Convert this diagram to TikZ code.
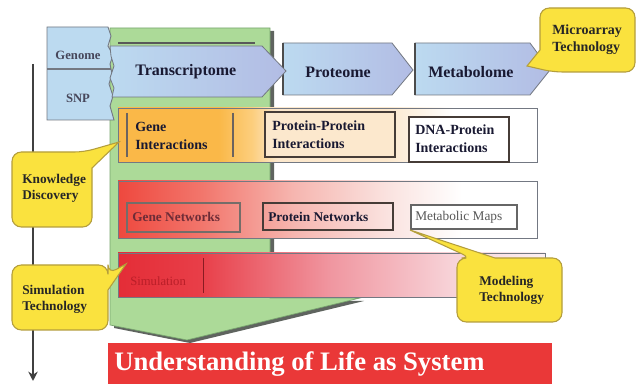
\documentclass[tikz,border=0pt]{standalone}
\usepackage{fontspec}
\setmainfont{Liberation Serif}
\usetikzlibrary{arrows.meta}
\definecolor{grn}{RGB}{172,218,152}
\definecolor{grnb}{RGB}{120,165,110}
\definecolor{shad}{RGB}{95,100,95}
\definecolor{lblue}{RGB}{188,218,240}
\definecolor{lav}{RGB}{178,188,228}
\definecolor{bgray}{RGB}{115,120,130}
\definecolor{navy}{RGB}{25,25,50}
\definecolor{orA}{RGB}{250,184,72}
\definecolor{orA2}{RGB}{252,206,125}
\definecolor{orB}{RGB}{252,232,205}
\definecolor{rdA}{RGB}{238,72,62}
\definecolor{rdA2}{RGB}{242,118,108}
\definecolor{rdB}{RGB}{246,182,176}
\definecolor{rdC}{RGB}{250,226,223}
\definecolor{smA}{RGB}{228,45,55}
\definecolor{smA2}{RGB}{232,62,72}
\definecolor{smB}{RGB}{240,150,160}
\definecolor{smC}{RGB}{247,210,215}
\definecolor{smD}{RGB}{252,240,242}
\definecolor{yel}{RGB}{250,226,62}
\definecolor{yelb}{RGB}{180,158,60}
\definecolor{redbar}{RGB}{234,56,56}
\definecolor{peach}{RGB}{252,232,205}
\definecolor{boxb}{RGB}{70,60,55}
\definecolor{simtxt}{RGB}{185,30,40}
\pgfdeclarehorizontalshading{bandA}{100bp}{color(0bp)=(orA); color(25bp)=(orA); color(37bp)=(orA); color(41bp)=(orA2); color(44bp)=(orB); color(57bp)=(orB); color(65bp)=(white); color(100bp)=(white)}
\pgfdeclarehorizontalshading{bandB}{100bp}{color(0bp)=(rdA); color(25bp)=(rdA); color(35bp)=(rdA2); color(46bp)=(rdB); color(57bp)=(rdC); color(66bp)=(white); color(100bp)=(white)}
\pgfdeclarehorizontalshading{bandC}{100bp}{color(0bp)=(smA); color(25bp)=(smA); color(34.6bp)=(smA2); color(49.8bp)=(smB); color(63.9bp)=(smC); color(75bp)=(smD); color(100bp)=(smD)}
\tikzset{
  band/.style={draw=bgray, line width=0.7pt, shade},
  ibox/.style={draw=boxb, line width=1.1pt},
  callout/.style={fill=yel, draw=yelb, line width=0.8pt},
  toplbl/.style={font=\fontsize{12}{13}\selectfont\bfseries, text=navy, anchor=west, inner sep=0pt},
  boxlbl/.style={font=\fontsize{10.5}{13.5}\selectfont\bfseries, text=navy, anchor=west, align=left, inner sep=0pt},
  calllbl/.style={font=\fontsize{10}{12}\selectfont\bfseries, text=black!85, anchor=west, align=left, inner sep=0pt},
}
\begin{document}
\begin{tikzpicture}[x=0.75pt,y=-0.75pt]
\useasboundingbox (0,0) rectangle (637,384);
\fill[white] (0,0) rectangle (637,384);
% vertical arrow
\coordinate (vtop) at (33,64);
\coordinate (vbot) at (33,381);
\draw[line width=2pt, draw=black!75, -{Stealth[length=7pt,width=7pt]}] (vtop) -- (vbot);
% green big arrow
\fill[shad] (114,31) -- (274,31) -- (274,301) -- (364,301) -- (190,343) -- (114,328) -- cycle;
\filldraw[fill=grn, draw=grnb, line width=0.5pt] (110,28) -- (270,28) -- (270,298) -- (360,298) -- (187,340) -- (110,325) -- cycle;
% genome / SNP box
\filldraw[fill=lblue, draw=bgray, line width=0.7pt] (47,27) -- (108,27) -- (111,36) -- (108,46) -- (113,55) -- (110,64) -- (112,74) -- (109,84) -- (113,96) -- (110,106) -- (114,120) -- (47,120) -- cycle;
\draw[bgray, line width=0.8pt] (47,69) -- (111,69);
\node[font=\fontsize{9.5}{11}\selectfont\bfseries, text=navy!80] (genome) at (78,55) {Genome};
\node[font=\fontsize{9.5}{11}\selectfont\bfseries, text=navy!80] (snp) at (78,98) {SNP};
% proteome, metabolome
\shade[left color=lblue, right color=lav, draw=bgray, line width=0.6pt] (283,43) -- (392,43) -- (413,70) -- (392,95) -- (283,95) -- cycle;
\draw[black!70, line width=1pt] (283,43) -- (283,95);
\shade[left color=lblue, right color=lav, draw=bgray, line width=0.6pt] (415,43) -- (530,43) -- (550,70) -- (530,95) -- (415,95) -- cycle;
\draw[black!70, line width=1pt] (415,43) -- (415,95);
% transcriptome
\draw[black!65, line width=1pt] (118,43) -- (255,43);
\shade[left color=lblue, right color=lav, draw=bgray, line width=0.6pt] (110,46) -- (262,46) -- (286,71) -- (262,97) -- (112,97) -- (114,88) -- (110,78) -- (114,66) -- (111,56) -- cycle;
\node[toplbl] (trans) at (135,72) {Transcriptome};
\node[toplbl] (prot) at (305,72) {Proteome};
\node[toplbl] (metab) at (428,72) {Metabolome};
% band 1: interactions
\path[band, shading=bandA] (118,108) rectangle (537,162);
\draw[boxb!80, line width=1pt] (127,113) -- (127,157);
\draw[boxb!80, line width=1pt] (233,113) -- (233,157);
\node[boxlbl] (geneint) at (135,136) {Gene\\Interactions};
\filldraw[ibox, fill=peach] (265,112) rectangle (395,157);
\node[boxlbl] (protint) at (272,135) {Protein-Protein\\Interactions};
\filldraw[ibox, fill=white] (409,117) rectangle (509,162);
\node[boxlbl] (dnaint) at (415,139) {DNA-Protein\\Interactions};
% band 2: networks
\path[band, shading=bandB] (118,181) rectangle (537,238);
\draw[ibox, draw=boxb!75, line width=0.9pt] (127,203) rectangle (240,232);
\node[boxlbl, font=\fontsize{10}{12}\selectfont\bfseries, text=rdA!40!navy] (genenet) at (132,217) {Gene Networks};
\draw[ibox] (263,203) rectangle (393,230);
\node[boxlbl, font=\fontsize{10}{12}\selectfont\bfseries] (protnet) at (268,217) {Protein Networks};
\filldraw[ibox, draw=black!60, line width=0.9pt, fill=white] (411,205) rectangle (517,229);
\node[boxlbl, font=\fontsize{10}{12}\selectfont, text=black!65] (metmap) at (415,217) {Metabolic Maps};
% band 3: simulation
\path[band, shading=bandC] (118,253) rectangle (545,297);
\draw[smA!60!black, line width=0.7pt] (203,258) -- (203,293);
\node[boxlbl, font=\fontsize{9.5}{11}\selectfont, text=simtxt] (simul) at (130,281) {Simulation};
% callouts
\draw[callout] (588,8) [rounded corners=7pt] -- (635,8) -- (635,72) -- (553,72) [sharp corners] -- (527,66) -- (540,50) [rounded corners=7pt] -- (540,8) -- cycle;
\node[calllbl, font=\fontsize{10.5}{12.5}\selectfont\bfseries] (micro) at (552,40) {Microarray\\Technology};
\draw[callout] (52,227) [rounded corners=7pt] -- (12,227) -- (12,152) -- (84,152) [sharp corners] -- (119,142) -- (92,168) [rounded corners=7pt] -- (92,227) -- cycle;
\node[calllbl] (know) at (22,188) {Knowledge\\Discovery};
\draw[callout] (60,330) [rounded corners=7pt] -- (12,330) -- (12,265) -- (108,265) -- (108,274) [sharp corners] -- (126,264) -- (108,290) [rounded corners=7pt] -- (108,330) -- cycle;
\node[calllbl] (simtech) at (22,299) {Simulation\\Technology};
\draw[callout] (510,322) [rounded corners=7pt] -- (457,322) -- (457,258) -- (471,258) [sharp corners] -- (410,230) -- (495,258) [rounded corners=7pt] -- (562,258) -- (562,322) -- cycle;
\node[calllbl] (model) at (479,290) {Modeling\\Technology};
% bottom bar
\fill[redbar] (108,343) rectangle (552,384);
\node[font=\fontsize{20}{23}\selectfont\bfseries, text=white, anchor=west, inner sep=0pt] (under) at (114,364) {Understanding of Life as System};
\end{tikzpicture}
\end{document}
